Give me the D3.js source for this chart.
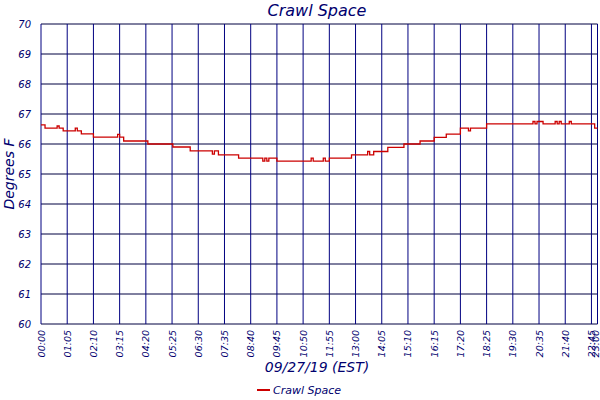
<!DOCTYPE html>
<html><head><meta charset="utf-8">
<script src="https://cdn.jsdelivr.net/npm/d3@7"></script>
<style>body{margin:0;background:#fff}text{font-family:"DejaVu Sans",sans-serif;font-style:italic;fill:#00006e}</style>
</head><body><div id="chart"></div>
<script>
// readings, 09/27/19
var times = ["00:00","00:10","00:40","00:45","00:55","01:25","01:30","01:40","02:10","03:10","03:15","03:25",
  "04:25","05:27","06:10","07:05","07:10","07:20","08:10","09:10","09:15","09:20","09:25","09:45",
  "11:10","11:15","11:40","11:45","11:55","12:50","13:30","13:35","13:45","14:20","15:00","15:40",
  "16:15","16:45","17:20","17:40","17:45","18:25","20:20","20:25","20:30","20:45","21:15","21:20",
  "21:25","21:30","21:50","21:55","22:53","23:00"];
var temps = [66.64,66.53,66.6,66.53,66.44,66.53,66.44,66.34,66.23,66.32,66.23,66.1,
  66.0,65.9,65.77,65.66,65.77,65.64,65.53,65.43,65.53,65.43,65.53,65.43,
  65.53,65.43,65.53,65.43,65.53,65.64,65.75,65.64,65.75,65.89,66.0,66.1,
  66.22,66.33,66.53,66.44,66.53,66.67,66.75,66.67,66.75,66.67,66.75,66.67,
  66.75,66.67,66.75,66.67,66.53,66.53];
var yTicks = [60,61,62,63,64,65,66,67,68,69,70];
var xTickLabels = ["00:00","01:05","02:10","03:15","04:20","05:25","06:30","07:35","08:40","09:45","10:50",
  "11:55","13:00","14:05","15:10","16:15","17:20","18:25","19:30","20:35","21:40","22:45","23:00"];
var seriesName = "Crawl Space";

function mins(t){ var p = t.split(":"); return +p[0]*60 + +p[1]; }

var W = 600, H = 400;
var svg = d3.select("#chart").append("svg").attr("width", W).attr("height", H);

var x = d3.scaleLinear().domain([0, 1380]).range([41, 597.5]);
var y = d3.scaleLinear().domain([60, 70]).range([324, 24]);

var navy = "#000080";

// grid
svg.selectAll(".hg").data(yTicks).enter().append("line")
  .attr("x1", x(0)).attr("x2", x(1380))
  .attr("y1", function(d){ return y(d); }).attr("y2", function(d){ return y(d); })
  .attr("stroke", "#000040").attr("stroke-width", 1);
svg.selectAll(".vg").data(xTickLabels).enter().append("line")
  .attr("x1", function(d){ return x(mins(d)); }).attr("x2", function(d){ return x(mins(d)); })
  .attr("y1", y(70)).attr("y2", y(60))
  .attr("stroke", navy).attr("stroke-width", 1);

// y labels
svg.selectAll(".yl").data(yTicks).enter().append("text")
  .attr("x", 31).attr("y", function(d){ return y(d) + 4; })
  .attr("text-anchor", "end").style("font-size", "10px")
  .text(function(d){ return d; });

// x labels, rotated
svg.selectAll(".xl").data(xTickLabels).enter().append("text")
  .attr("transform", function(d){ return "translate(" + Math.min(x(mins(d)) + 3.5, 599) + ",330) rotate(-90)"; })
  .attr("text-anchor", "end").style("font-size", "9.5px")
  .text(function(d){ return d; });

// line
var pts = times.map(function(t, i){ return {m: mins(t), v: temps[i]}; });
var line = d3.line().x(function(d){ return x(d.m); }).y(function(d){ return y(d.v); })
  .curve(d3.curveStepAfter);
svg.append("path").datum(pts).attr("d", line)
  .attr("fill", "none").attr("stroke", "#cc0000").attr("stroke-width", 1.3);

// titles
svg.append("text").attr("x", 317).attr("y", 16).attr("text-anchor", "middle")
  .style("font-size", "16px").text(seriesName);
svg.append("text").attr("transform", "translate(14,174) rotate(-90)").attr("text-anchor", "middle")
  .style("font-size", "14px").text("Degrees F");
svg.append("text").attr("x", 317).attr("y", 372).attr("text-anchor", "middle")
  .style("font-size", "14px").text("09/27/19 (EST)");

// legend
svg.append("line").attr("x1", 257).attr("x2", 270).attr("y1", 390).attr("y2", 390)
  .attr("stroke", "#cc0000").attr("stroke-width", 2);
svg.append("text").attr("x", 273).attr("y", 394).style("font-size", "11px").text(seriesName);
</script></body></html>
